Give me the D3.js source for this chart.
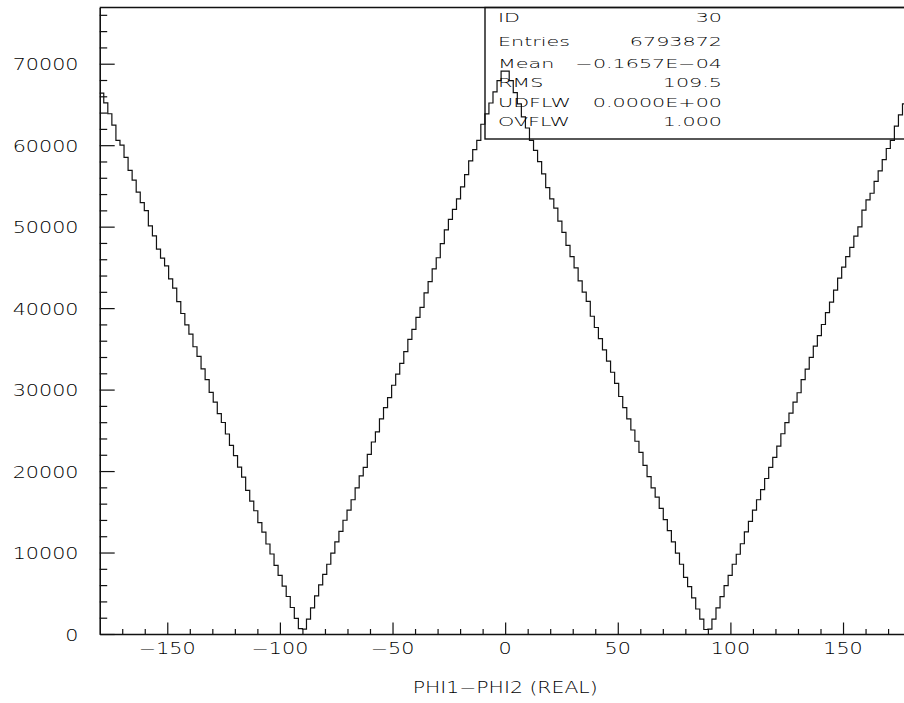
<!DOCTYPE html>
<html>
<head>
<meta charset="utf-8">
<script src="https://cdn.jsdelivr.net/npm/d3@7"></script>
<style>
  body { margin: 0; background: #fff; }
  svg { display: block; overflow: hidden; }
  text { font-family: "DejaVu Sans", sans-serif; font-weight: 200; fill: #000; }
</style>
</head>
<body>
<div id="chart"></div>
<script>
// histogram 30 : PHI1-PHI2, 200 bins from -180 to 180
var xRange = [-180, 180];
var binWidth = 1.8;
var counts = [
  66400, 65200, 63860, 62460, 60600, 60000, 58500, 56900, 55700, 54250,
  52940, 51970, 50090, 48860, 47240, 46140, 45180, 43600, 42460, 40790,
  39340, 37940, 36800, 35260, 34080, 32540, 31230, 29650, 28460, 27060,
  25960, 24550, 23160, 21890, 20480, 19250, 17630, 16320, 15130, 13680,
  12500, 11050, 9820, 8420, 7190, 5880, 4600, 3250, 1930, 660,
  600, 1830, 3200, 4670, 6040, 7320, 8560, 9930, 11300, 12590,
  13960, 15200, 16480, 17940, 19400, 20460, 22060, 23570, 24810, 26410,
  27780, 29020, 30530, 31900, 33230, 34650, 36160, 37390, 38860, 40090,
  41880, 43250, 44810, 46180, 47920, 49610, 50900, 52130, 53410, 54880,
  56390, 58080, 59460, 60600, 62570, 63850, 65180, 66550, 67920, 69100,
  69100, 67920, 66460, 65080, 63480, 62110, 60600, 59360, 57990, 56480,
  54790, 53410, 52270, 50670, 49290, 47690, 46320, 44950, 43340, 41970,
  40830, 39000, 37620, 36250, 34880, 33500, 32130, 30760, 29150, 27780,
  26410, 25040, 23660, 22290, 20690, 19320, 17940, 16800, 15420, 14050,
  12680, 11310, 9930, 8560, 6960, 5810, 4440, 3070, 1830, 550,
  600, 1830, 3200, 4580, 5950, 7190, 8560, 9790, 11080, 12540,
  13820, 15200, 16480, 17710, 19090, 20460, 21690, 23070, 24580, 25950,
  27100, 28470, 29610, 31220, 32500, 33960, 35330, 36620, 37990, 39450,
  40740, 42200, 43670, 45040, 46320, 47460, 48840, 49980, 52040, 53280,
  54100, 55560, 56850, 58220, 59590, 60600, 62340, 63710, 65080, 66370
];
var yMax = 76900;
var yMajor = [0, 10000, 20000, 30000, 40000, 50000, 60000, 70000];
var xMajor = [-150, -100, -50, 0, 50, 100, 150];
var xTitle = "PHI1\u2212PHI2 (REAL)";
var statNames = ["ID", "Entries", "Mean", "RMS", "UDFLW", "OVFLW"];
var statValues = ["30", "6793872", "\u22120.1657E\u221204", "109.5", "0.0000E+00", "1.000"];

const width = 904, height = 703;
const pLeft = 99.7, pRight = 910.6, pTop = 7.5, pBottom = 634;

const svg = d3.select("#chart").append("svg")
    .attr("width", width)
    .attr("height", height);

const x = d3.scaleLinear().domain(xRange).range([pLeft, pRight]);
const y = d3.scaleLinear().domain([0, yMax]).range([pBottom, pTop]);

// the HIGZ font is much wider than DejaVu, so stretch it sideways
function wideText(x0, y0, str, size, sx, anchor) {
  svg.append("g")
      .attr("transform", `translate(${x0},${y0}) scale(${sx},1)`)
    .append("text")
      .attr("font-size", size)
      .attr("text-anchor", anchor)
      .text(str);
}

function minorOf(lo, hi, step, major) {
  return d3.range(lo, hi + step / 2, step).filter(v => major.indexOf(v) < 0);
}

// histogram outline
const pts = [];
counts.forEach((c, i) => {
  const lo = xRange[0] + i * binWidth;
  pts.push([x(lo), y(c)], [x(lo + binWidth), y(c)]);
});
svg.append("path")
    .attr("d", d3.line()(pts))
    .attr("fill", "none")
    .attr("stroke", "#111")
    .attr("stroke-width", 1.2);

// axes, ticks pointing inside the frame
function styleAxis(g, w) {
  g.selectAll("line").attr("stroke", "#111").attr("stroke-width", 1.2);
  g.select(".domain").attr("stroke", "#111").attr("stroke-width", w);
}

svg.append("g")
    .attr("transform", `translate(${pLeft},0)`)
    .call(d3.axisLeft(y).tickValues(yMajor).tickSize(-15).tickSizeOuter(0).tickFormat(""))
    .call(g => styleAxis(g, 1.6));
svg.append("g")
    .attr("transform", `translate(${pLeft},0)`)
    .call(d3.axisLeft(y).tickValues(minorOf(2000, 76000, 2000, yMajor)).tickSize(-7.5).tickSizeOuter(0).tickFormat(""))
    .call(g => g.select(".domain").remove())
    .call(g => styleAxis(g, 0));

svg.append("g")
    .attr("transform", `translate(0,${pBottom})`)
    .call(d3.axisBottom(x).tickValues(xMajor).tickSize(-11.5).tickSizeOuter(0).tickFormat(""))
    .call(g => styleAxis(g, 1.6));
svg.append("g")
    .attr("transform", `translate(0,${pBottom})`)
    .call(d3.axisBottom(x).tickValues(minorOf(-170, 170, 10, xMajor)).tickSize(-5).tickSizeOuter(0).tickFormat(""))
    .call(g => g.select(".domain").remove())
    .call(g => styleAxis(g, 0));

// top edge of the frame
svg.append("line")
    .attr("x1", pLeft).attr("x2", pRight)
    .attr("y1", pTop).attr("y2", pTop)
    .attr("stroke", "#111").attr("stroke-width", 1.4);

// tick labels
const fmt = v => (v < 0 ? "\u2212" : "") + Math.abs(v);
yMajor.forEach(v => wideText(78.5, y(v) + 6.6, fmt(v), 15, 1.38, "end"));
xMajor.forEach(v => wideText(x(v), pBottom + 20, fmt(v), 15, 1.38, "middle"));
wideText(x(0), 693, xTitle, 15, 1.36, "middle");

// statistics box
const box = {x0: 485, y0: pTop, y1: 139};
svg.append("rect")
    .attr("x", box.x0).attr("y", box.y0)
    .attr("width", pRight - box.x0).attr("height", box.y1 - box.y0)
    .attr("fill", "none")
    .attr("stroke", "#111")
    .attr("stroke-width", 1.4);

const rowY = [21.5, 45.5, 67.5, 86.5, 106.5, 125.5];
statNames.forEach((s, i) => {
  wideText(498, rowY[i], s, 11.5, 1.8, "start");
  wideText(722, rowY[i], statValues[i], 11.5, 1.8, "end");
});
</script>
</body>
</html>
